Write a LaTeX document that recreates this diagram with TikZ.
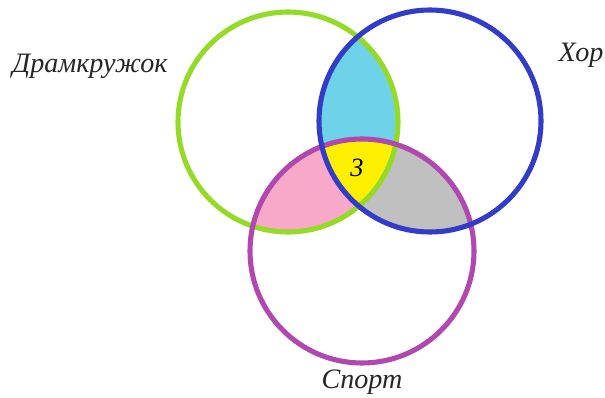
\documentclass[tikz,border=0pt]{standalone}
\usepackage{fontspec}
\setmainfont{Liberation Serif}
\usepackage{tikz}
\usetikzlibrary{positioning}
\usepackage{xcolor}
\definecolor{drama}{RGB}{150,218,40}
\definecolor{choir}{RGB}{50,60,200}
\definecolor{sport}{RGB}{176,72,176}
\definecolor{cyanfill}{RGB}{110,210,232}
\definecolor{pinkfill}{RGB}{248,168,200}
\definecolor{greyfill}{RGB}{192,192,192}
\definecolor{yellowfill}{RGB}{255,240,0}

\begin{document}
\begin{tikzpicture}[x=0.02cm, y=-0.02cm,
  ring/.style={line width=2.9pt},
  lbl/.style={font=\fontsize{16}{19}\selectfont\itshape, text=black!85, inner sep=0pt}]
\useasboundingbox (0,0) rectangle (605,398);
\coordinate (dr) at (288,122);
\coordinate (ch) at (430,121);
\coordinate (sp) at (362,251);
% shaded overlaps
\begin{scope}
  \clip (dr) circle[radius=110];
  \fill[cyanfill] (ch) circle[radius=111];
  \fill[pinkfill] (sp) circle[radius=112];
\end{scope}
\begin{scope}
  \clip (ch) circle[radius=111];
  \fill[greyfill] (sp) circle[radius=112];
  \clip (dr) circle[radius=110];
  \fill[yellowfill] (sp) circle[radius=112];
\end{scope}
% rings
\draw[ring, drama] (dr) circle[radius=110];
\draw[ring, sport] (sp) circle[radius=112];
\draw[ring, choir] (ch) circle[radius=111];
\node[lbl] (drlbl) at (90,66)  {Драмкружок};
\node[lbl] (chlbl) at (581,55) {Хор};
\node[lbl] (splbl) at (362,382) {Спорт};
\node[font=\fontsize{15}{18}\selectfont\itshape, inner sep=0pt] (n) at (357,168) {3};
\end{tikzpicture}
\end{document}
